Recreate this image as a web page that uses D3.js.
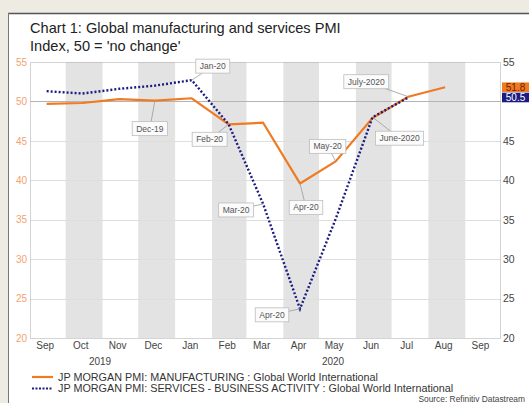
<!DOCTYPE html>
<html>
<head>
<meta charset="utf-8">
<script src="https://cdn.jsdelivr.net/npm/d3@7"></script>
<style>
  html, body { margin: 0; padding: 0; background: #eeebe3; }
  svg { display: block; font-family: "Liberation Sans", Arial, sans-serif; }
</style>
</head>
<body>
<svg id="chart" width="529" height="403"></svg>
<script>
// monthly points, plotted mid-month
var months = ["2019-09", "2019-10", "2019-11", "2019-12", "2020-01", "2020-02",
              "2020-03", "2020-04", "2020-05", "2020-06", "2020-07", "2020-08"];
var manufacturing = [49.7, 49.8, 50.3, 50.1, 50.4, 47.1, 47.3, 39.6, 42.4, 47.9, 50.6, 51.8];
var services = [51.3, 51.0, 51.6, 52.0, 52.7, 47.1, 37.0, 23.7, 35.1, 48.0, 50.5];
var yTicks = [20, 25, 30, 35, 40, 45, 50, 55];
var seriesNames = ["JP MORGAN PMI: MANUFACTURING : Global World International",
                   "JP MORGAN PMI: SERVICES - BUSINESS ACTIVITY : Global World International"];

// callouts: which series / month, and where the box sits relative to the point
var callouts = [
  {text: "Dec-19", s: 0, i: 3, dx: -5, dy: 28},
  {text: "Jan-20", s: 1, i: 4, dx: 21, dy: -14},
  {text: "Feb-20", s: 0, i: 5, dx: -19, dy: 15},
  {text: "Mar-20", s: 1, i: 6, dx: -27, dy: 6},
  {text: "Apr-20", s: 0, i: 7, dx: 6, dy: 24},
  {text: "Apr-20", s: 1, i: 7, dx: -28, dy: 6},
  {text: "May-20", s: 0, i: 8, dx: -8, dy: -15},
  {text: "June-2020", s: 1, i: 9, dx: 27, dy: 21},
  {text: "July-2020", s: 0, i: 10, dx: -42, dy: -15}
];

var ORANGE = "#f07a22", NAVY = "#1c1c80";
var parse = d3.timeParse("%Y-%m");
var mid = function(m){ var d = parse(m); return d3.timeDay.offset(d, 14); };

var svg = d3.select("#chart");

// white panel
svg.append("rect").attr("x", 8).attr("y", 13).attr("width", 521).attr("height", 390).attr("fill", "#fff");
svg.append("line").attr("x1", 8).attr("x2", 529).attr("y1", 13.5).attr("y2", 13.5).attr("stroke", "#555").attr("stroke-width", 1.5);
svg.append("line").attr("x1", 8.5).attr("x2", 8.5).attr("y1", 13).attr("y2", 403).attr("stroke", "#777").attr("stroke-width", 1);

var x = d3.scaleTime().domain([new Date(2019, 8, 1), new Date(2020, 9, 1)]).range([30, 501]);
var y = d3.scaleLinear().domain([20, 55]).range([338, 62]);

// alternating month shading
var allMonths = d3.timeMonth.range(new Date(2019, 8, 1), new Date(2020, 9, 1));
svg.append("g").selectAll("rect").data(allMonths.filter(function(d, i){ return i % 2 === 1; }))
  .join("rect")
  .attr("x", function(d){ return x(d); })
  .attr("width", function(d){ return x(d3.timeMonth.offset(d, 1)) - x(d); })
  .attr("y", y(55)).attr("height", y(20) - y(55))
  .attr("fill", "#e3e3e3");

// gridlines
svg.append("g").selectAll("line").data(yTicks.slice(1, -1)).join("line")
  .attr("x1", 30).attr("x2", 501)
  .attr("y1", function(d){ return Math.round(y(d)) + 0.5; })
  .attr("y2", function(d){ return Math.round(y(d)) + 0.5; })
  .attr("stroke", function(d){ return d === 50 ? "#b4b4b4" : "#dedede"; })
  .attr("stroke-width", function(d){ return d === 50 ? 1.2 : 1; });

// frame
svg.append("rect").attr("x", 30.5).attr("y", y(55) + 0.5).attr("width", 470).attr("height", y(20) - y(55))
  .attr("fill", "none").attr("stroke", "#a8a8a8").attr("stroke-dasharray", "1,1");

// axes
var yLeft = svg.append("g").attr("transform", "translate(27,0)")
  .call(d3.axisLeft(y).tickValues(yTicks).tickSize(0).tickPadding(0));
yLeft.select(".domain").remove();
yLeft.selectAll("text").attr("fill", "#f4a271").attr("font-size", 10).attr("font-family", "Liberation Sans, Arial");

// right axis: 50 is hidden behind the last-value tags
var yRight = svg.append("g").attr("transform", "translate(503,0)")
  .call(d3.axisRight(y).tickValues(yTicks.filter(function(d){ return d !== 50; })).tickSize(0).tickPadding(0));
yRight.select(".domain").remove();
yRight.selectAll("text").attr("fill", "#444").attr("font-size", 10.5).attr("font-family", "Liberation Sans, Arial");

var xAxis = svg.append("g").attr("transform", "translate(-2," + y(20) + ")")
  .call(d3.axisBottom(x).tickValues(allMonths.map(function(d){ return d3.timeDay.offset(d, 14); }))
    .tickFormat(d3.timeFormat("%b")).tickSize(0).tickPadding(4));
xAxis.select(".domain").remove();
xAxis.selectAll("text").attr("fill", "#444").attr("font-size", 10).attr("font-family", "Liberation Sans, Arial");

svg.append("text").attr("x", 100).attr("y", 365).attr("text-anchor", "middle")
  .attr("font-size", 10).attr("fill", "#444").text("2019");
svg.append("text").attr("x", 333).attr("y", 365).attr("text-anchor", "middle")
  .attr("font-size", 10).attr("fill", "#444").text("2020");

// lines
var line = d3.line().x(function(d){ return x(mid(d.m)); }).y(function(d){ return y(d.v); });
var mfgData = manufacturing.map(function(v, i){ return {m: months[i], v: v}; });
var svcData = services.map(function(v, i){ return {m: months[i], v: v}; });

svg.append("path").datum(mfgData).attr("d", line)
  .attr("fill", "none").attr("stroke", ORANGE).attr("stroke-width", 2.2).attr("stroke-linejoin", "round");
svg.append("path").datum(svcData).attr("d", line)
  .attr("fill", "none").attr("stroke", NAVY).attr("stroke-width", 2.4).attr("stroke-dasharray", "2,2");

// callouts
var seriesData = [mfgData, svcData];
var cg = svg.append("g").selectAll("g").data(callouts).join("g");
cg.each(function(c){
  var g = d3.select(this);
  var d = seriesData[c.s][c.i];
  var px = x(mid(d.m)), py = y(d.v);
  var cx = px + c.dx, cy = py + c.dy;
  g.append("line").attr("x1", px).attr("y1", py).attr("x2", cx).attr("y2", cy)
    .attr("stroke", "#9a9a9a").attr("stroke-width", 0.8);
  var t = g.append("text").attr("x", cx).attr("y", cy + 3).attr("text-anchor", "middle")
    .attr("font-size", 8.5).attr("fill", "#555").text(c.text);
  var w = t.node().getComputedTextLength() + 8;
  g.insert("rect", "text").attr("x", cx - w / 2).attr("y", cy - 7).attr("width", w).attr("height", 14)
    .attr("fill", "#fbfbfb").attr("stroke", "#bdbdbd").attr("stroke-width", 0.8);
});

// last value tags
var tags = [
  {v: manufacturing[manufacturing.length - 1], bg: ORANGE, fg: "#6a1e00"},
  {v: services[services.length - 1], bg: NAVY, fg: "#fff"}
];
var tg = svg.append("g").selectAll("g").data(tags).join("g");
tg.append("rect").attr("x", 502).attr("y", function(d){ return y(d.v) - 4.8; })
  .attr("width", 27).attr("height", 9.6).attr("fill", function(d){ return d.bg; });
tg.append("text").attr("x", 515.5).attr("y", function(d){ return y(d.v) + 3.6; })
  .attr("text-anchor", "middle").attr("font-size", 10)
  .attr("fill", function(d){ return d.fg; }).text(function(d){ return d.v.toFixed(1); });

// title
svg.append("text").attr("x", 30).attr("y", 33).attr("font-size", 14.6).attr("fill", "#222")
  .text("Chart 1: Global manufacturing and services PMI");
svg.append("text").attr("x", 30).attr("y", 50.5).attr("font-size", 14.6).attr("fill", "#222")
  .text("Index, 50 = 'no change'");

// legend
var lg = svg.append("g").selectAll("g").data(seriesNames).join("g")
  .attr("transform", function(d, i){ return "translate(32," + (377 + i * 11.5) + ")"; });
lg.append("line").attr("x1", 0).attr("x2", 21)
  .attr("stroke", function(d, i){ return i === 0 ? ORANGE : NAVY; })
  .attr("stroke-width", function(d, i){ return i === 0 ? 2.2 : 2; })
  .attr("stroke-dasharray", function(d, i){ return i === 0 ? null : "2,1.5"; });
lg.append("text").attr("x", 26).attr("y", 3.8).attr("font-size", 10.8).attr("fill", "#333").text(function(d){ return d; });

svg.append("text").attr("x", 525).attr("y", 402).attr("text-anchor", "end")
  .attr("font-size", 8.4).attr("fill", "#444").text("Source: Refinitiv Datastream");
</script>
</body>
</html>
